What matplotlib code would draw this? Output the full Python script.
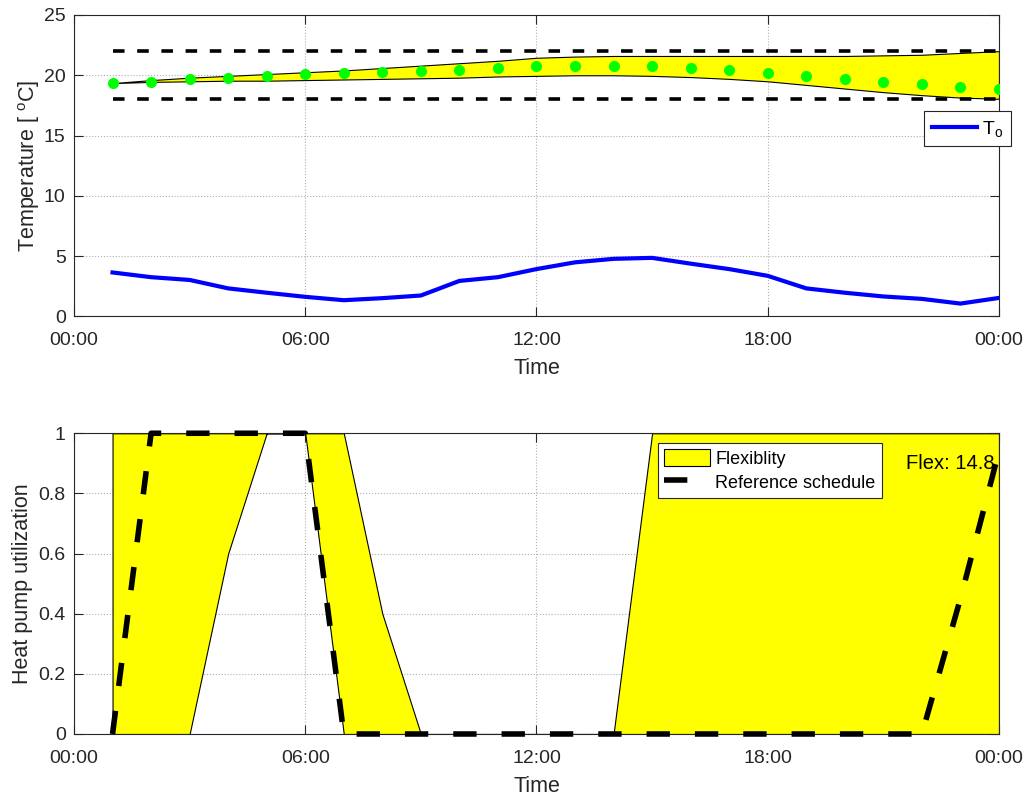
import numpy as np
import matplotlib
matplotlib.use("Agg")
from matplotlib import pyplot as plt

plt.rcParams['font.family'] = ['Liberation Sans', 'DejaVu Sans']
plt.rcParams['mathtext.fontset'] = 'custom'
plt.rcParams['mathtext.rm'] = 'Liberation Sans'
plt.rcParams['mathtext.it'] = 'Liberation Sans:italic'
plt.rcParams['mathtext.default'] = 'regular'

# hours of the day, 1..24
hours = list(range(1, 25))

# top panel: indoor temperature band, comfort limits, set points, outdoor temp
t_upper = [19.35, 19.6, 19.8, 19.95, 20.1, 20.25, 20.4, 20.6, 20.8, 21.0, 21.2, 21.45,
           21.55, 21.6, 21.6, 21.6, 21.6, 21.6, 21.6, 21.6, 21.65, 21.7, 21.85, 22.0]
t_lower = [19.35, 19.45, 19.5, 19.55, 19.55, 19.6, 19.65, 19.7, 19.75, 19.8, 19.9, 19.95,
           20.0, 20.0, 19.95, 19.85, 19.7, 19.5, 19.2, 18.9, 18.6, 18.35, 18.15, 18.05]
t_indoor = [19.35, 19.48, 19.67, 19.81, 19.95, 20.09, 20.22, 20.30, 20.36, 20.47, 20.58, 20.77,
            20.79, 20.77, 20.77, 20.63, 20.44, 20.22, 19.97, 19.70, 19.45, 19.26, 19.02, 18.85]
t_max = 22
t_min = 18
t_out = [3.65, 3.26, 3.03, 2.33, 1.97, 1.63, 1.35, 1.52, 1.74, 2.95, 3.26, 3.93,
         4.49, 4.78, 4.86, 4.38, 3.93, 3.37, 2.33, 1.97, 1.66, 1.46, 1.07, 1.54]

# bottom panel: heat pump utilization
hp_upper = [1, 1, 1, 1, 1, 1, 1, 0.4, 0, 0, 0, 0, 0, 0, 1, 1, 1, 1, 1, 1, 1, 1, 1, 1]
hp_lower = [0, 0, 0, 0.6, 1, 1, 0, 0, 0, 0, 0, 0, 0, 0, 0, 0, 0, 0, 0, 0, 0, 0, 0, 0]
hp_ref = [0, 1, 1, 1, 1, 1, 0, 0, 0, 0, 0, 0, 0, 0, 0, 0, 0, 0, 0, 0, 0, 0, 0.45, 0.94]
flex_value = 14.8

xticks = [0, 6, 12, 18, 24]
xticklabels = ['00:00', '06:00', '12:00', '18:00', '00:00']
top_yticks = [0, 5, 10, 15, 20, 25]
bot_yticks = [0, 0.2, 0.4, 0.6, 0.8, 1]
bot_yticklabels = ['0', '0.2', '0.4', '0.6', '0.8', '1']

fig = plt.figure(figsize=(10.25, 7.96), dpi=100)
ax1 = fig.add_axes([0.0722, 0.6024, 0.9024, 0.3788])
ax2 = fig.add_axes([0.0722, 0.0779, 0.9024, 0.3778])

def style_axes(ax):
    ax.set_xlim(0, 24)
    ax.set_xticks(xticks)
    ax.set_xticklabels(xticklabels)
    ax.grid(True, color='#b0b0b0', linestyle=':', linewidth=0.8)
    ax.set_axisbelow(True)
    ax.tick_params(direction='in', length=6.5, width=0.8, top=True, right=True,
                   labelsize=14, colors='#262626')
    ax.tick_params(axis='x', pad=11.5)
    ax.tick_params(axis='y', pad=6)
    for s in ax.spines.values():
        s.set_color('#262626')
        s.set_linewidth(0.8)
    ax.set_xlabel('Time', fontsize=15.5, color='#262626', labelpad=6.5)

# ---- top
ax1.fill_between(hours, t_lower, t_upper, facecolor='#ffff00', edgecolor='black', linewidth=0.8, zorder=2)
ax1.plot([hours[0], hours[-1]], [t_max, t_max], color='black', lw=2.6, dashes=(3.2, 3.5), zorder=3)
ax1.plot([hours[0], hours[-1]], [t_min, t_min], color='black', lw=2.6, dashes=(3.2, 3.5), zorder=3)
ax1.plot(hours, t_indoor, 'o', color='#00ff00', markersize=8, markeredgewidth=0, zorder=4)
l_out, = ax1.plot(hours, t_out, color='#0000ff', lw=3, label=r'T$_{o}$', zorder=4)
ax1.set_ylim(0, 25)
ax1.set_yticks(top_yticks)
style_axes(ax1)
ax1.set_ylabel(r'Temperature [ $^{o}$C]', fontsize=15.5, color='#262626', labelpad=1.5)
leg1 = ax1.legend(handles=[l_out], loc='upper left', bbox_to_anchor=(0.919, 0.682),
                  borderaxespad=0, fontsize=14, fancybox=False, framealpha=1,
                  edgecolor='#262626', handlelength=2.3, handletextpad=0.3, borderpad=0.4)
leg1.get_frame().set_linewidth(0.8)

# ---- bottom
flex = ax2.fill_between(hours, hp_lower, hp_upper, facecolor='#ffff00', edgecolor='black',
                        linewidth=0.8, label='Flexiblity', zorder=2)
ref, = ax2.plot(hours, hp_ref, color='black', lw=4, dashes=(4.2, 4.5),
                label='Reference schedule', clip_on=False, zorder=4)
ax2.set_ylim(0, 1)
ax2.set_yticks(bot_yticks)
ax2.set_yticklabels(bot_yticklabels)
style_axes(ax2)
ax2.set_ylabel('Heat pump utilization', fontsize=15.5, color='#262626', labelpad=4)
leg2 = ax2.legend(handles=[flex, ref], loc='upper left', bbox_to_anchor=(0.631, 0.968),
                  borderaxespad=0, fontsize=13, fancybox=False, framealpha=1,
                  edgecolor='#262626', handlelength=2.55, handleheight=1.05,
                  handletextpad=0.3, borderpad=0.35, labelspacing=0.3)
leg2.get_frame().set_linewidth(0.8)
ax2.text(21.59, 0.901, 'Flex: %.1f' % flex_value, fontsize=14.5, ha='left', va='center',
         color='black', zorder=3)

fig.savefig('out.png', dpi=100)
